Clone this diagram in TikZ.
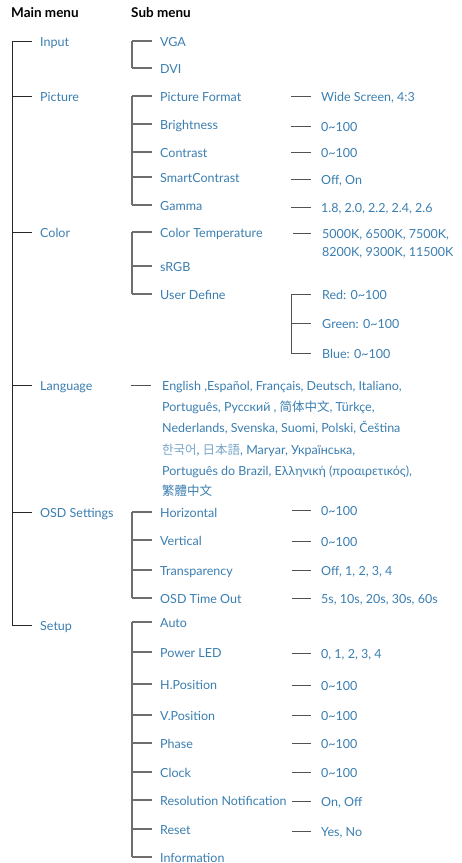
\documentclass[tikz,border=0pt]{standalone}
\usepackage{fontspec}
\setmainfont{Lato}
\newfontfamily\cjksc{Noto Sans CJK SC}
\newfontfamily\cjkjp{Noto Sans CJK JP}
\newfontfamily\cjkkr{Noto Sans CJK KR}
\newfontfamily\cjktc{Noto Sans CJK TC}
\definecolor{txtblue}{RGB}{58,126,176}
\definecolor{lightblue}{RGB}{120,165,200}
\definecolor{linedark}{RGB}{40,40,40}
\definecolor{linegray}{RGB}{110,110,110}
\newcommand{\rng}{0\textasciitilde 100}
\begin{document}
\begin{tikzpicture}[x=1pt,y=-1pt,
  item/.style={anchor=west,inner sep=0pt,text height=10pt,text depth=0pt,text=txtblue,font=\fontsize{12.5}{14}\selectfont},
  head/.style={anchor=west,inner sep=0pt,text height=10pt,text depth=0pt,font=\fontsize{13.5}{15}\selectfont\bfseries},
  mline/.style={draw=linedark,line width=0.9pt},
  sline/.style={draw=linegray,line width=1.2pt},
  vline/.style={draw=linedark!80,line width=1pt}]
\useasboundingbox (0,0) rectangle (461,863);
% headers
\node[head] (hmain) at (11,12) {Main menu};
\node[head] (hsub) at (131,12) {Sub menu};
% main items
\node[item] (input) at (40,41) {Input};
\node[item] (picture) at (40,96) {Picture};
\node[item] (color) at (40,232) {Color};
\node[item] (language) at (40,385) {Language};
\node[item] (osd) at (40,512) {OSD Settings};
\node[item] (setup) at (40,625) {Setup};
\draw[mline] ([xshift=-28]input.west) -- ([xshift=-28]setup.west);
\foreach \n in {input,picture,color,language,osd,setup}
  \draw[mline] ([xshift=-28]\n.west) -- ++(20,0);
% Input
\node[item] (vga) at (160,41) {VGA};
\node[item] (dvi) at (160,68) {DVI};
\draw[sline] ([xshift=-28]vga.west) -- ([xshift=-28]dvi.west);
\foreach \n in {vga,dvi} \draw[sline] ([xshift=-28]\n.west) -- ++(20,0);
% Picture
\node[item] (pf) at (160,96) {Picture Format};
\node[item] (br) at (160,124) {Brightness};
\node[item] (co) at (160,152) {Contrast};
\node[item] (sc) at (160,177) {SmartContrast};
\node[item] (ga) at (160,205) {Gamma};
\draw[sline] ([xshift=-28]pf.west) -- ([xshift=-28]ga.west);
\foreach \n in {pf,br,co,sc,ga} \draw[sline] ([xshift=-28]\n.west) -- ++(20,0);
\node[item] (pfv) at (321,96) {Wide Screen, 4:3};
\node[item] (brv) at (321,126) {\rng};
\node[item] (cov) at (321,152) {\rng};
\node[item] (scv) at (321,179) {Off, On};
\node[item] (gav) at (321,207) {1.8, 2.0, 2.2, 2.4, 2.6};
\foreach \n in {pfv,brv,cov,scv,gav} \draw[vline] ([xshift=-30]\n.west) -- ++(20,0);
% Color
\node[item] (ct) at (160,232) {Color Temperature};
\node[item] (srgb) at (160,266) {sRGB};
\node[item] (ud) at (160,294) {User Define};
\draw[sline] ([xshift=-28]ct.west) -- ([xshift=-28]ud.west);
\foreach \n in {ct,srgb,ud} \draw[sline] ([xshift=-28]\n.west) -- ++(20,0);
\node[item] (ctv1) at (322,233) {5000K, 6500K, 7500K,};
\node[item] (ctv2) at (322,251) {8200K, 9300K, 11500K};
\draw[vline] ([xshift=-29]ctv1.west) -- ++(18,0);
\node[item] (red) at (322,294) {Red: \rng};
\node[item] (green) at (322,323) {Green: \rng};
\node[item] (blue) at (322,353) {Blue: \rng};
\draw[vline] ([xshift=-31]red.west) -- ([xshift=-31]blue.west);
\foreach \n in {red,green,blue} \draw[vline] ([xshift=-31]\n.west) -- ++(20,0);
% Language
\node[item] (l1) at (162,385) {English ,Español, Français, Deutsch, Italiano,};
\node[item] (l2) at (162,406) {Português, Русский , {\cjksc 简体中文}, Türkçe,};
\node[item] (l3) at (162,427) {Nederlands, Svenska, Suomi, Polski, Čeština};
\node[item] (l4) at (162,449) {{\color{lightblue}\cjkkr 한국어}, {\color{lightblue}\cjkjp 日本語}, Maryar, Українська,};
\node[item] (l5) at (162,470) {Português do Brazil, Ελληνική (προαιρετικός),};
\node[item] (l6) at (162,490) {\cjktc 繁體中文};
\draw[vline] ([xshift=-31]l1.west) -- ++(20,0);
% OSD Settings
\node[item] (hor) at (160,512) {Horizontal};
\node[item] (ver) at (160,540) {Vertical};
\node[item] (tra) at (160,570) {Transparency};
\node[item] (oto) at (160,598) {OSD Time Out};
\draw[sline] ([xshift=-28]hor.west) -- ([xshift=-28]oto.west);
\foreach \n in {hor,ver,tra,oto} \draw[sline] ([xshift=-28]\n.west) -- ++(20,0);
\node[item] (horv) at (321,510) {\rng};
\node[item] (verv) at (321,541) {\rng};
\node[item] (trav) at (321,570) {Off, 1, 2, 3, 4};
\node[item] (otov) at (321,598) {5s, 10s, 20s, 30s, 60s};
\foreach \n in {horv,verv,trav,otov} \draw[vline] ([xshift=-29]\n.west) -- ++(19,0);
% Setup
\node[item] (auto) at (160,622) {Auto};
\node[item] (pled) at (160,652) {Power LED};
\node[item] (hpos) at (160,684) {H.Position};
\node[item] (vpos) at (160,715) {V.Position};
\node[item] (phase) at (160,743) {Phase};
\node[item] (clock) at (160,772) {Clock};
\node[item] (resn) at (160,800) {Resolution Notification};
\node[item] (reset) at (160,829) {Reset};
\node[item] (info) at (160,857) {Information};
\draw[sline] ([xshift=-28]auto.west) -- ([xshift=-28]info.west);
\foreach \n in {auto,pled,hpos,vpos,phase,clock,resn,reset,info} \draw[sline] ([xshift=-28]\n.west) -- ++(20,0);
\node[item] (pledv) at (321,653) {0, 1, 2, 3, 4};
\node[item] (hposv) at (321,685) {\rng};
\node[item] (vposv) at (321,715) {\rng};
\node[item] (phasev) at (321,743) {\rng};
\node[item] (clockv) at (321,772) {\rng};
\node[item] (resnv) at (321,801) {On, Off};
\node[item] (resetv) at (321,831) {Yes, No};
\foreach \n in {pledv,hposv,vposv,phasev,clockv,resnv,resetv} \draw[vline] ([xshift=-29]\n.west) -- ++(19,0);
\end{tikzpicture}
\end{document}
